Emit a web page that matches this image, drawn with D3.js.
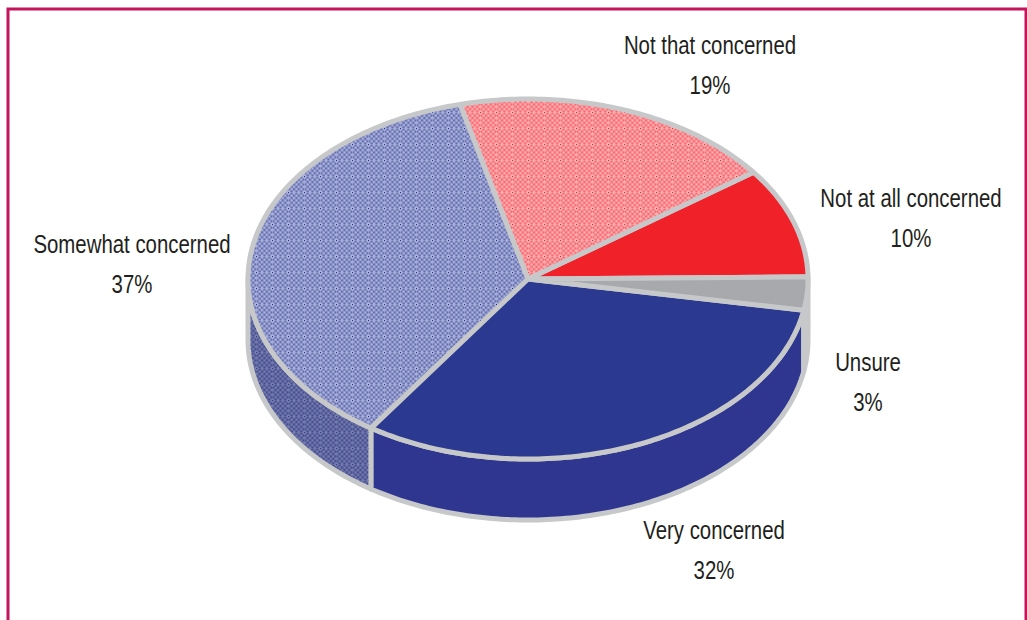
<!DOCTYPE html>
<html>
<head>
<meta charset="utf-8">
<script src="https://d3js.org/d3.v7.min.js"></script>
<style>
html, body { margin: 0; padding: 0; background: #fff; overflow: hidden; }
svg { display: block; }
text { font-family: "Liberation Sans", sans-serif; font-size: 26.5px; fill: #231f20; text-anchor: middle; }
</style>
</head>
<body>
<svg id="chart" width="1027" height="620"></svg>
<script>
const categories = ['Not at all concerned', 'Not that concerned', 'Somewhat concerned', 'Very concerned', 'Unsure']
const percents = [10, 19, 37, 32, 3]
const topFills = ['#f1212a', 'url(#checkRed)', 'url(#checkBlue)', '#2b3990', '#a7a9ac']
const sideFills = ['#c01a22', '#c01a22', 'url(#checkDark)', '#2e3690', '#8a8c8e']
const labelX = [911, 710, 132, 714, 868]
const labelY = [207, 54, 253, 539, 371]

const width = 1027, height = 620
const cx = 528, cy = 279, rx = 280, ry = 180, depth = 61
const edge = '#c7c8ca'
const tilt = 0.012

const svg = d3.select('#chart')
const defs = svg.append('defs')

// the halftone fills: a fine checker with a lighter grid every 16px
function checker(id, a, b, dot) {
	let inner = defs.append('pattern')
		.attr('id', id + 'Cell')
		.attr('width', 4.8).attr('height', 4.8)
		.attr('patternUnits', 'userSpaceOnUse')
	inner.append('rect').attr('width', 4.8).attr('height', 4.8).attr('fill', a)
	inner.append('rect').attr('width', 2.4).attr('height', 2.4).attr('fill', b)
	inner.append('rect').attr('x', 2.4).attr('y', 2.4).attr('width', 2.4).attr('height', 2.4).attr('fill', b)

	let outer = defs.append('pattern')
		.attr('id', id)
		.attr('width', 16).attr('height', 16)
		.attr('patternUnits', 'userSpaceOnUse')
	outer.append('rect').attr('width', 16).attr('height', 16).attr('fill', `url(#${id}Cell)`)
	outer.append('rect').attr('width', 16).attr('height', 1).attr('fill', b).attr('opacity', 0.5)
	outer.append('rect').attr('width', 1).attr('height', 16).attr('fill', b).attr('opacity', 0.5)
	outer.append('rect').attr('width', 1).attr('height', 1).attr('fill', dot)
}
checker('checkBlue', '#6570b2', '#adb3da', '#1c2a8c')
checker('checkRed', '#f56a70', '#fdb0b3', '#f1212a')
checker('checkDark', '#464f93', '#767cab', '#2b3580')

// slices run anticlockwise from just above due east, as angles on the ellipse
const pie = d3.pie().value(d => d).sort(null)
	.startAngle(tilt).endAngle(2 * Math.PI + tilt)
const slices = pie(percents)

const px = d3.scaleLinear().domain([-1, 1]).range([cx - rx, cx + rx])
const py = d3.scaleLinear().domain([-1, 1]).range([cy + ry, cy - ry])
const line = d3.line()

function rim(a0, a1, dy) {
	let n = Math.max(2, Math.ceil((a1 - a0) * 60))
	return d3.range(n + 1).map(i => {
		let a = a0 + (a1 - a0) * i / n
		return [px(Math.cos(a)), py(Math.sin(a)) + dy]
	})
}

const PI = Math.PI

// outer wall, only the front half of the ellipse shows
slices.forEach((s, i) => {
	let a0 = Math.max(s.startAngle, PI), a1 = Math.min(s.endAngle, 2 * PI)
	if (a1 <= a0) return
	let pts = rim(a0, a1, 0).concat(rim(a0, a1, depth).reverse())
	svg.append('path')
		.attr('d', line(pts) + 'Z')
		.attr('fill', sideFills[i])
		.attr('stroke', edge)
		.attr('stroke-width', 5)
		.attr('stroke-linejoin', 'round')
})

// top face
slices.forEach((s, i) => {
	let pts = [[cx, cy]].concat(rim(s.startAngle, s.endAngle, 0))
	svg.append('path')
		.attr('d', line(pts) + 'Z')
		.attr('fill', topFills[i])
		.attr('stroke', edge)
		.attr('stroke-width', 5)
		.attr('stroke-linejoin', 'round')
})

// labels, squeezed to the condensed width of the original face
function label(x, y, s) {
	svg.append('text')
		.attr('transform', `translate(${x},${y}) scale(0.77,1)`)
		.text(s)
}
categories.forEach((c, i) => {
	label(labelX[i], labelY[i], c)
	label(labelX[i], labelY[i] + 40, percents[i] + '%')
})

// page frame
svg.append('path')
	.attr('d', d3.line()([[8, height + 5], [8, 9], [1026, 9], [1026, height + 5]]))
	.attr('fill', 'none')
	.attr('stroke', '#c4155c')
	.attr('stroke-width', 3)
</script>
</body>
</html>
